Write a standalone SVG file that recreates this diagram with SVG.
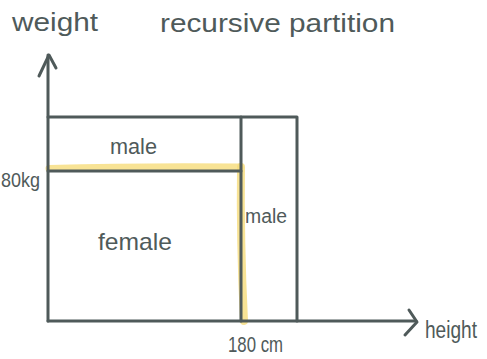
<svg xmlns="http://www.w3.org/2000/svg" width="487" height="359" viewBox="0 0 487 359">
<style>
.ln{fill:none;stroke:#4f5a5a;stroke-width:3;stroke-linecap:round;stroke-linejoin:round}
.hl{fill:none;stroke:#f6dc7a;stroke-opacity:0.8;stroke-linecap:round}
text{font-family:"Liberation Sans Narrow","Liberation Sans",Arial,sans-serif;fill:#4f5a5a}
</style>
<rect width="487" height="359" fill="#ffffff"/>
<g id="highlight">
<path class="hl" stroke-width="7" d="M49,168.5 Q140,166 240,167"/>
<path class="hl" stroke-width="8" d="M241,167 Q240,240 244,321"/>
</g>
<g id="connectors">
<path class="ln" d="M48,321 L48,55"/>
<path class="ln" d="M39,76 L49,55 L56,68"/>
<path class="ln" d="M48,321 L416,321"/>
<path class="ln" d="M409,310 L417,322 L405,335"/>
</g>
<g id="partition">
<path class="ln" d="M48,117 L297,117 L297,321"/>
<path class="ln" d="M241,117 L241,321"/>
<path class="ln" d="M48,171 L241,171"/>
</g>
<g id="labels">
<text x="12" y="31" font-size="26" textLength="86" lengthAdjust="spacingAndGlyphs">weight</text>
<text x="160" y="32" font-size="26" textLength="235" lengthAdjust="spacingAndGlyphs">recursive partition</text>
<text x="110" y="154" font-size="22" textLength="47" lengthAdjust="spacingAndGlyphs">male</text>
<text x="245" y="223" font-size="20" textLength="42" lengthAdjust="spacingAndGlyphs">male</text>
<text x="98" y="250" font-size="24" textLength="74" lengthAdjust="spacingAndGlyphs">female</text>
<text x="1" y="187" font-size="21" textLength="39" lengthAdjust="spacingAndGlyphs">80kg</text>
<text x="228" y="352" font-size="22" textLength="55" lengthAdjust="spacingAndGlyphs">180 cm</text>
<text x="425" y="338" font-size="23" textLength="52" lengthAdjust="spacingAndGlyphs">height</text>
</g>
</svg>
